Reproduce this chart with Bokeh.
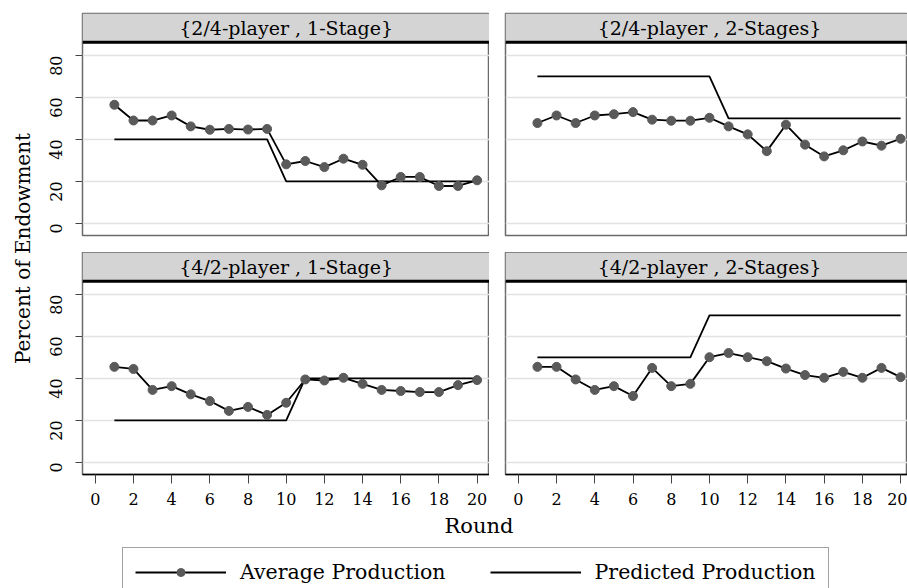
import math
from bokeh.plotting import figure
from bokeh.models import (Range1d, FixedTicker, BoxAnnotation, Span, Label,
                          Legend, LegendItem)
from bokeh.layouts import row, column
from bokeh.embed import file_html
from bokeh.resources import INLINE

# ---------------- data ----------------
rounds = [1, 2, 3, 4, 5, 6, 7, 8, 9, 10, 11, 12, 13, 14, 15, 16, 17, 18, 19, 20]

titles = ["{2/4-player , 1-Stage}", "{2/4-player , 2-Stages}",
          "{4/2-player , 1-Stage}", "{4/2-player , 2-Stages}"]

avg_24_1 = [56.5, 49.0, 49.0, 51.4, 46.2, 44.6, 45.0, 44.7, 45.0, 28.1,
            29.7, 26.8, 30.8, 27.9, 18.1, 22.1, 22.1, 17.8, 17.8, 20.5]
pred_24_1 = [40, 40, 40, 40, 40, 40, 40, 40, 40, 20,
             20, 20, 20, 20, 20, 20, 20, 20, 20, 20]

avg_24_2 = [47.8, 51.4, 47.8, 51.4, 52.0, 53.0, 49.4, 48.9, 48.9, 50.3,
            46.2, 42.4, 34.4, 47.0, 37.5, 31.9, 34.8, 39.0, 37.0, 40.3]
pred_24_2 = [70, 70, 70, 70, 70, 70, 70, 70, 70, 70,
             50, 50, 50, 50, 50, 50, 50, 50, 50, 50]

avg_42_1 = [45.5, 44.5, 34.5, 36.3, 32.4, 29.2, 24.5, 26.4, 22.6, 28.4,
            39.5, 39.0, 40.3, 37.4, 34.5, 34.0, 33.5, 33.5, 36.8, 39.2]
pred_42_1 = [20, 20, 20, 20, 20, 20, 20, 20, 20, 20,
             40, 40, 40, 40, 40, 40, 40, 40, 40, 40]

avg_42_2 = [45.5, 45.5, 39.5, 34.5, 36.3, 31.6, 45.0, 36.3, 37.4, 50.1,
            52.1, 50.1, 48.2, 44.7, 41.6, 40.3, 43.1, 40.3, 45.0, 40.6]
pred_42_2 = [50, 50, 50, 50, 50, 50, 50, 50, 50, 70,
             70, 70, 70, 70, 70, 70, 70, 70, 70, 70]

y_ticks = [0, 20, 40, 60, 80]
x_ticks = [0, 2, 4, 6, 8, 10, 12, 14, 16, 18, 20]

# ---------------- style ----------------
FONT = "DejaVu Serif"
MARK = "#5a5a5a"
STRIP_BOTTOM = 86.3
STRIP_TOP = 100
X_START = -0.67


def panel(title, avg, pred, width, height, x_end, left_axis, bottom_axis,
          mb_left, mb_right, mb_top, mb_bottom):
    p = figure(width=width, height=height, output_backend="svg",
               toolbar_location=None,
               x_range=Range1d(X_START, x_end), y_range=Range1d(-5.8, STRIP_TOP),
               x_axis_location="below" if bottom_axis else None,
               y_axis_location="left" if left_axis else None,
               min_border_left=mb_left, min_border_right=mb_right,
               min_border_top=mb_top, min_border_bottom=mb_bottom)
    p.outline_line_color = "#6a6a6a"
    p.outline_line_width = 1.5
    p.background_fill_color = "white"
    p.border_fill_color = "white"
    p.xgrid.grid_line_color = None
    p.ygrid.ticker = FixedTicker(ticks=y_ticks)
    p.ygrid.grid_line_color = "#e2e2e2"
    p.ygrid.grid_line_width = 1.5

    p.add_layout(BoxAnnotation(bottom=STRIP_BOTTOM, top=STRIP_TOP,
                               fill_color="#d4d4d4", fill_alpha=1,
                               line_color=None))
    p.add_layout(Span(location=STRIP_BOTTOM, dimension="width",
                      line_color="black", line_width=3))
    p.add_layout(Label(x=10, y=(STRIP_BOTTOM + STRIP_TOP) / 2, text=title,
                       text_align="center", text_baseline="middle",
                       text_font=FONT, text_font_size="19px",
                       text_color="black"))

    p.line(rounds, pred, line_color="black", line_width=1.8)
    p.line(rounds, avg, line_color="black", line_width=1.8)
    p.scatter(rounds, avg, size=9, fill_color=MARK, line_color=MARK)

    if left_axis:
        ax = p.yaxis[0]
        ax.ticker = FixedTicker(ticks=y_ticks)
        ax.major_label_orientation = math.pi / 2
        ax.major_label_text_font = FONT
        ax.major_label_text_font_size = "16px"
        ax.major_label_text_color = "black"
        ax.major_label_standoff = 19
        ax.major_tick_out = 7
        ax.major_tick_in = 0
        ax.minor_tick_line_color = None
        ax.major_tick_line_color = "#444444"
        ax.axis_line_color = None
    if bottom_axis:
        ax = p.xaxis[0]
        ax.ticker = FixedTicker(ticks=x_ticks)
        ax.major_label_text_font = FONT
        ax.major_label_text_font_size = "16px"
        ax.major_label_text_color = "black"
        ax.major_label_standoff = 9
        ax.major_tick_out = 9
        ax.major_tick_in = 0
        ax.minor_tick_line_color = None
        ax.major_tick_line_color = "#444444"
        ax.axis_line_color = "black"
        ax.axis_line_width = 1.5
    return p


# left panels: frame 407 px wide; right panels run to the window edge
p1 = panel(titles[0], avg_24_1, pred_24_1, 455, 252, 20.65, True, False, 48, 0, 13, 17)
p2 = panel(titles[1], avg_24_2, pred_24_2, 418, 252, 20.36, False, False, 16, 0, 13, 17)
p3 = panel(titles[2], avg_42_1, pred_42_1, 455, 258, 20.65, True, True, 48, 0, 0, 36)
p4 = panel(titles[3], avg_42_2, pred_42_2, 418, 258, 20.36, False, True, 16, 0, 0, 36)


def blank(width, height):
    f = figure(width=width, height=height, output_backend="svg",
               toolbar_location=None, x_axis_location=None, y_axis_location=None,
               x_range=Range1d(0, width), y_range=Range1d(0, height),
               min_border_left=0, min_border_right=0,
               min_border_top=0, min_border_bottom=0)
    f.outline_line_color = None
    f.grid.grid_line_color = None
    return f


# y-axis title
yl = blank(34, 510)
yl.add_layout(Label(x=22.5, y=262, text="Percent of Endowment", angle=math.pi / 2,
                    text_align="center", text_baseline="middle",
                    text_font=FONT, text_font_size="20px", text_color="black"))

# x-axis title and legend
bf = blank(907, 78)
bf.add_layout(Label(x=478.5, y=63, text="Round", text_align="center",
                    text_baseline="middle", text_font=FONT,
                    text_font_size="21px", text_color="black"))
bf.extra_y_ranges = {"off": Range1d(1000, 1001)}
r_avg_line = bf.line(rounds, avg_24_1, y_range_name="off",
                     line_color="black", line_width=1.8)
r_avg_pt = bf.scatter(rounds, avg_24_1, y_range_name="off", size=9,
                      fill_color=MARK, line_color=MARK)
r_pred = bf.line(rounds, pred_24_1, y_range_name="off",
                 line_color="black", line_width=1.8)
legend = Legend(items=[LegendItem(label="Average Production",
                                  renderers=[r_avg_line, r_avg_pt]),
                       LegendItem(label="Predicted Production",
                                  renderers=[r_pred])],
                orientation="horizontal", location=(122, -9),
                glyph_width=91, glyph_height=20, label_height=20,
                label_standoff=14, spacing=44, padding=12, margin=0,
                label_text_font=FONT, label_text_font_size="20.5px",
                label_text_color="black",
                border_line_color="#444444", border_line_width=1,
                background_fill_color="white", background_fill_alpha=1)
bf.add_layout(legend)

layout = column(row(yl, column(row(p1, p2), row(p3, p4))), bf)

open("out.html", "w").write(file_html(layout, INLINE))
